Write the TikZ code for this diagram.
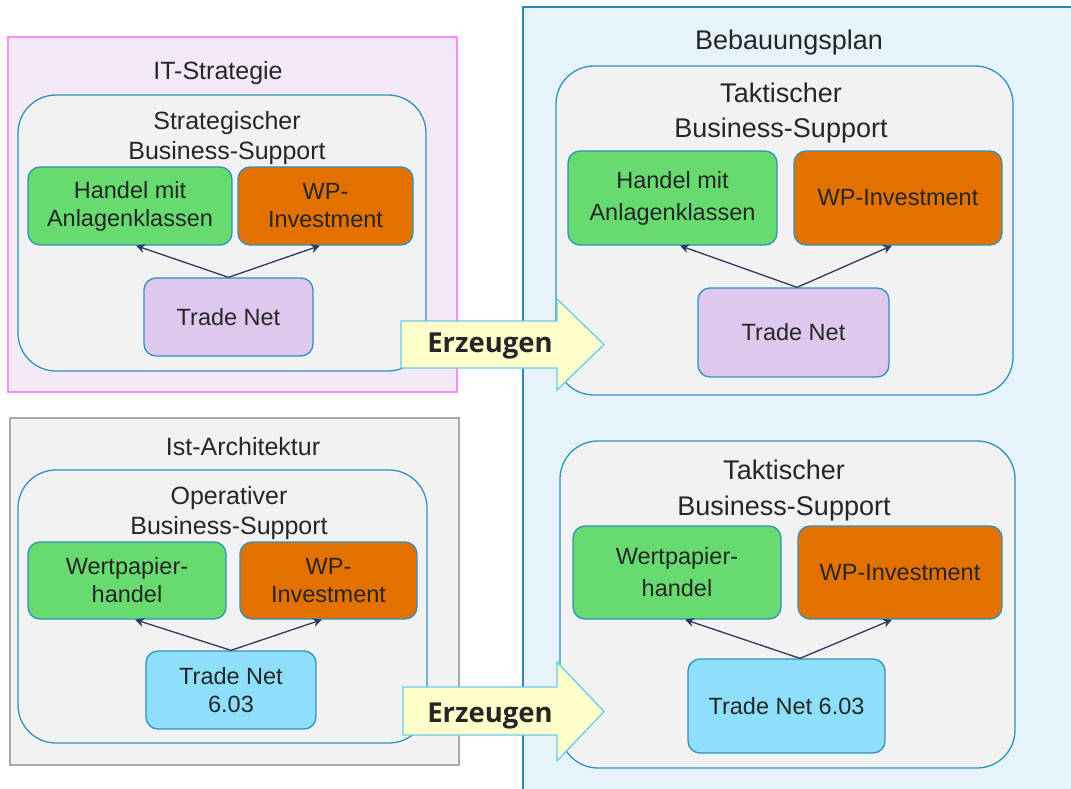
\documentclass[tikz,border=0pt]{standalone}
\usepackage{fontspec}
\setmainfont{Liberation Sans}
\newfontfamily\erzfont{Open Sans}
\usetikzlibrary{arrows.meta,calc}
\definecolor{pinkline}{HTML}{FF8CFF}
\definecolor{pinkfill}{HTML}{F4EAF7}
\definecolor{grayline}{HTML}{A8A8A8}
\definecolor{grayfill}{HTML}{F2F2F2}
\definecolor{blueline}{HTML}{2B87B3}
\definecolor{bluefill}{HTML}{E7F3FA}
\definecolor{ctrline}{HTML}{2E93BD}
\definecolor{ctrfill}{HTML}{F2F2F2}
\definecolor{elgreen}{HTML}{67DA70}
\definecolor{elorange}{HTML}{E37100}
\definecolor{elpurple}{HTML}{DEC8EE}
\definecolor{elcyan}{HTML}{8EDFFA}
\definecolor{deparrow}{HTML}{2D3A5E}
\definecolor{erzfill}{HTML}{FFFFCC}
\definecolor{erzline}{HTML}{66CCEE}
\definecolor{txt}{HTML}{262626}
\begin{document}
\begin{tikzpicture}[x=1pt,y=-1pt,
  outer/.style={rectangle, line width=1.2pt, inner sep=0pt},
  ctr/.style={rectangle, draw=ctrline, fill=ctrfill, rounded corners=38pt, line width=1.3pt, inner sep=0pt},
  elem/.style={rectangle, draw=ctrline, rounded corners=12pt, line width=1.3pt, inner sep=0pt, align=center, text=txt},
  lsmall/.style={font={\fontsize{23.5}{28}\selectfont}},
  rsmall/.style={font={\fontsize{23.5}{32}\selectfont}},
  ltitle/.style={anchor=base, text=txt, inner sep=0pt, align=center, font={\fontsize{25}{30}\selectfont}},
  rtitle/.style={anchor=base, text=txt, inner sep=0pt, align=center, font={\fontsize{27}{35.5}\selectfont}},
  dep/.style={-{Stealth[length=9pt,width=9pt]}, draw=deparrow, line width=1.3pt},
  erz/.style={draw=erzline, fill=erzfill, line width=1.3pt, line join=miter},
  erztext/.style={anchor=base, inner sep=0pt, text=txt, font={\erzfont\fontsize{27.5}{32}\selectfont\bfseries}}
]
\clip (0,0) rectangle (1071,789);
\fill[white] (0,0) rectangle (1071,789);

% outer frames
\node[outer, draw=pinkline, fill=pinkfill, minimum width=449pt, minimum height=355pt] (strat) at (232.5,214.5) {};
\node[outer, draw=grayline, fill=grayfill, minimum width=449pt, minimum height=347pt] (ist) at (234.5,591.5) {};
\node[outer, draw=blueline, fill=bluefill, minimum width=577pt, minimum height=813pt] (beb) at (811.5,413.5) {};

\node[ltitle] (stratT) at (218,80) {IT-Strategie};
\node[ltitle] (istT) at (243,455) {Ist-Architektur};
\node[rtitle] (bebT) at (789,50) {Bebauungsplan};

% containers
\node[ctr, minimum width=408pt, minimum height=276pt] (sbs) at (222,233) {};
\node[ctr, minimum width=409pt, minimum height=273pt] (obs) at (222.5,606.5) {};
\node[ctr, minimum width=457pt, minimum height=329pt] (tbs1) at (784.5,230.5) {};
\node[ctr, minimum width=455pt, minimum height=327pt] (tbs2) at (787.5,604.5) {};

\node[ltitle] (sbsT) at (227,160) {Strategischer\\Business-Support};
\node[ltitle] (obsT) at (229,534) {Operativer\\Business-Support};
\node[rtitle] (tbs1T) at (781,138) {Taktischer\\Business-Support};
\node[rtitle] (tbs2T) at (784,515) {Taktischer\\Business-Support};

% elements top-left
\node[elem, lsmall, fill=elgreen, minimum width=204pt, minimum height=78pt] (a1) at (130,206) {Handel mit\\Anlagenklassen};
\node[elem, lsmall, fill=elorange, minimum width=175pt, minimum height=78pt] (a2) at (325.5,206) {WP-\\Investment};
\node[elem, lsmall, fill=elpurple, minimum width=169pt, minimum height=78pt] (a3) at (228.5,317) {Trade Net};
% elements bottom-left
\node[elem, lsmall, fill=elgreen, minimum width=198pt, minimum height=77pt] (b1) at (127,580.5) {Wertpapier-\\handel};
\node[elem, lsmall, fill=elorange, minimum width=177pt, minimum height=77pt] (b2) at (328.5,580.5) {WP-\\Investment};
\node[elem, lsmall, fill=elcyan, minimum width=170pt, minimum height=78pt] (b3) at (231,690) {Trade Net\\6.03};
% elements top-right
\node[elem, rsmall, fill=elgreen, minimum width=209pt, minimum height=94pt] (c1) at (672.5,198) {Handel mit\\Anlagenklassen};
\node[elem, rsmall, fill=elorange, minimum width=208pt, minimum height=94pt] (c2) at (898,198) {WP-Investment};
\node[elem, rsmall, fill=elpurple, minimum width=191pt, minimum height=89pt] (c3) at (793.5,332.5) {Trade Net};
% elements bottom-right
\node[elem, rsmall, fill=elgreen, minimum width=208pt, minimum height=93pt] (d1) at (677,572.5) {Wertpapier-\\handel};
\node[elem, rsmall, fill=elorange, minimum width=204pt, minimum height=93pt] (d2) at (900,572.5) {WP-Investment};
\node[elem, rsmall, fill=elcyan, minimum width=197pt, minimum height=94pt] (d3) at (786.5,706) {Trade Net 6.03};

% dependencies
\draw[dep] (a3.north) -- ($(a1.south)+(6,0)$);
\draw[dep] (a3.north) -- ($(a2.south)+(-5.5,0)$);
\draw[dep] (b3.north) -- ($(b1.south)+(8,0)$);
\draw[dep] (b3.north) -- ($(b2.south)+(-6.5,0)$);
\draw[dep] ($(c3.north)+(3.5,0)$) -- ($(c1.south)+(7.5,0)$);
\draw[dep] ($(c3.north)+(3.5,0)$) -- ($(c2.south)+(-6,0)$);
\draw[dep] ($(d3.north)+(13.5,0)$) -- ($(d1.south)+(8,0)$);
\draw[dep] ($(d3.north)+(13.5,0)$) -- ($(d2.south)+(-8,0)$);

% Erzeugen arrows
\draw[erz] (401,321) -- (557,321) -- (557,299) -- (604,344.5) -- (557,390) -- (557,368) -- (401,368) -- cycle;
\node[erztext] (erz1) at (490,352) {Erzeugen};
\draw[erz] (403,687) -- (557,687) -- (557,662) -- (604,711.5) -- (557,761) -- (557,735) -- (403,735) -- cycle;
\node[erztext] (erz2) at (490,722) {Erzeugen};
\end{tikzpicture}
\end{document}
